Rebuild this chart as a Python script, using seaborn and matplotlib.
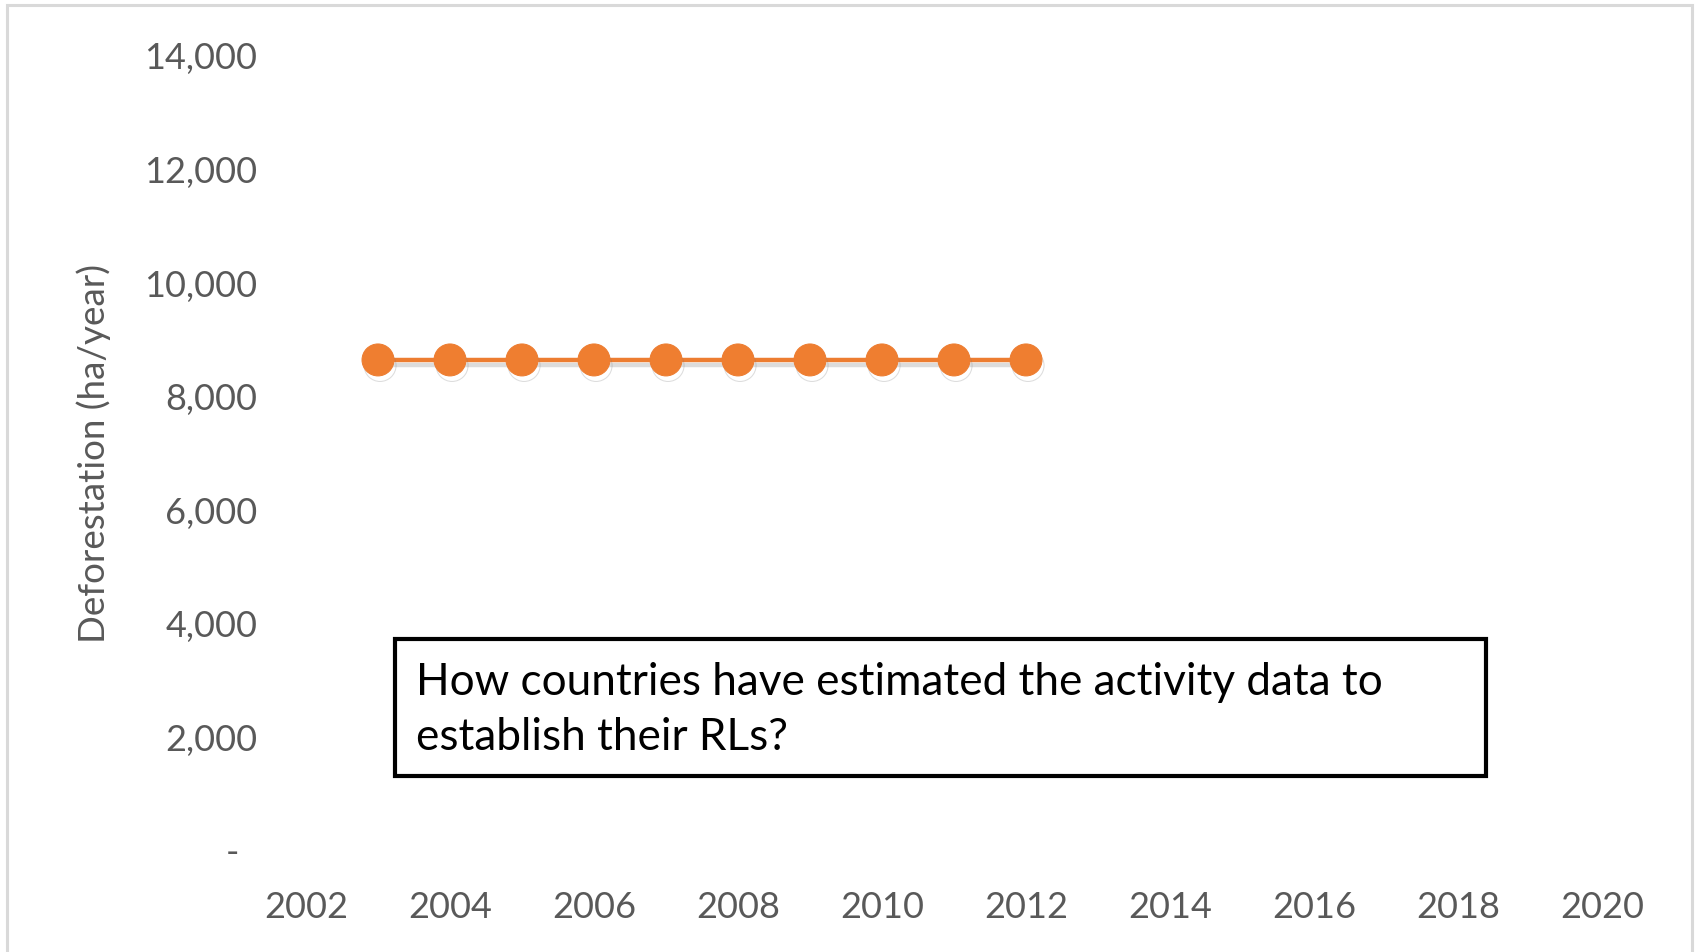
import matplotlib
matplotlib.use("Agg")
import matplotlib.pyplot as plt
import matplotlib.patheffects as pe
from matplotlib.patches import Rectangle
from matplotlib.ticker import FuncFormatter, FixedLocator
import seaborn as sns
import pandas as pd

years = [2003, 2004, 2005, 2006, 2007, 2008, 2009, 2010, 2011, 2012]
deforestation = [8630, 8630, 8630, 8630, 8630, 8630, 8630, 8630, 8630, 8630]
x_ticks = [2002, 2004, 2006, 2008, 2010, 2012, 2014, 2016, 2018, 2020]
y_ticks = [0, 2000, 4000, 6000, 8000, 10000, 12000, 14000]
y_label = "Deforestation (ha/year)"
box_text = "How countries have estimated the activity data to\nestablish their RLs?"

sns.set_theme(style="white")
plt.rcParams["font.family"] = ["Lato", "DejaVu Sans"]

W, H = 1696, 953
fig = plt.figure(figsize=(W / 100, H / 100), dpi=100)
ax = fig.add_axes([306 / W, (H - 851) / H, 1296 / W, (851 - 56) / H])

df = pd.DataFrame({"year": years, "value": deforestation})
sns.lineplot(data=df, x="year", y="value", ax=ax, color="#ED7D31",
             linewidth=3.2, marker="o", markersize=23,
             markeredgecolor="#ED7D31", markerfacecolor="#EF7E30",
             path_effects=[pe.SimpleLineShadow(offset=(1.5, -4.0), shadow_color="#777777", alpha=0.25),
                           pe.Normal()])

ax.set_xlim(2002, 2020)
ax.set_ylim(0, 14000)
ax.xaxis.set_major_locator(FixedLocator(x_ticks))
ax.yaxis.set_major_locator(FixedLocator(y_ticks))
ax.xaxis.set_major_formatter(FuncFormatter(lambda v, p: f"{int(v)}"))
ax.yaxis.set_major_formatter(FuncFormatter(lambda v, p: "-  " if v == 0 else f"{int(v):,}"))
ax.tick_params(axis="both", length=0, labelsize=26, labelcolor="#595959")
ax.tick_params(axis="y", pad=35)
ax.tick_params(axis="x", pad=29)
ax.set_xlabel("")
ax.set_ylabel(y_label, fontsize=26.5, color="#595959", labelpad=24)
for s in ax.spines.values():
    s.set_visible(False)
ax.grid(False)

# outer chart border
fig.patches.append(Rectangle((7 / W, -0.01), (1692 - 7) / W, (H - 6) / H + 0.01,
                             transform=fig.transFigure, fill=False,
                             edgecolor="#D9D9D9", linewidth=2.2))

# text box
fig.patches.append(Rectangle((395 / W, (H - 777) / H), (1486 - 395) / W, (777 - 640) / H,
                             transform=fig.transFigure, fill=True, facecolor="white",
                             edgecolor="black", linewidth=3, zorder=5))
fig.text(416 / W, (H - 710) / H, box_text, fontsize=31.8, color="black",
         ha="left", va="center", linespacing=1.4, zorder=6)

fig.savefig("out.png", dpi=100)
